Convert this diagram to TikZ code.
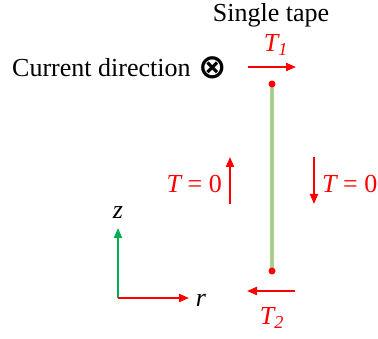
\documentclass[tikz,border=0pt]{standalone}
\usepackage{fontspec}
\setmainfont{Liberation Serif}
\newfontfamily\dejavu{DejaVu Sans}
\usetikzlibrary{arrows.meta}
\definecolor{tapegreen}{HTML}{A9D18E}
\definecolor{axisgreen}{HTML}{00B050}
\definecolor{stressred}{HTML}{FF0000}
\begin{document}
\begin{tikzpicture}[x=1pt, y=-1pt, >={Triangle[length=10pt, width=8pt]},
  every node/.style={font=\fontsize{26}{30}\selectfont, inner sep=0pt},
  force/.style={->, stressred, line width=2pt},
  lbl/.style={text=stressred, font=\fontsize{26}{30}\selectfont\itshape}]
  \useasboundingbox (0,0) rectangle (378,339);
  % Titles
  \node (title) at (271,15) {Single tape};
  \node[anchor=west] (current) at (12,68) {Current direction};
  \node (cross) at (213,68) {\dejavu\fontsize{34}{36}\selectfont\bfseries ⊗};
  % Tape with its end points
  \coordinate (top) at (272,84);
  \coordinate (bottom) at (272,271);
  \draw[tapegreen, line width=4pt] (top) -- (bottom);
  \fill[stressred] (top) circle (3.5pt);
  \fill[stressred] (bottom) circle (3.5pt);
  % Shear stress on the ends
  \coordinate (t1a) at (248,67);
  \coordinate (t1b) at (296,67);
  \draw[force] (t1a) -- (t1b);
  \node[lbl] (t1) at (276,45) {T\textsubscript{1}};
  \coordinate (t2a) at (295,291);
  \coordinate (t2b) at (247,291);
  \draw[force] (t2a) -- (t2b);
  \node[lbl] (t2) at (272,318) {T\textsubscript{2}};
  % Stress-free sides
  \coordinate (upa) at (230,204);
  \coordinate (upb) at (230,157);
  \draw[force] (upa) -- (upb);
  \node[lbl, anchor=east] (tleft) at (222,184) {T\upshape{} = 0};
  \coordinate (downa) at (314,157);
  \coordinate (downb) at (314,204);
  \draw[force] (downa) -- (downb);
  \node[lbl, anchor=west] (tright) at (322,184) {T\upshape{} = 0};
  % Axes
  \coordinate (origin) at (118,298);
  \coordinate (zend) at (118,228);
  \coordinate (rend) at (189,298);
  \draw[->, axisgreen, line width=2pt] (origin) -- (zend);
  \draw[->, stressred, line width=2pt] (origin) -- (rend);
  \node[font=\fontsize{26}{30}\selectfont\itshape] (z) at (118,213) {z};
  \node[font=\fontsize{26}{30}\selectfont\itshape] (r) at (201,300) {r};
\end{tikzpicture}
\end{document}
